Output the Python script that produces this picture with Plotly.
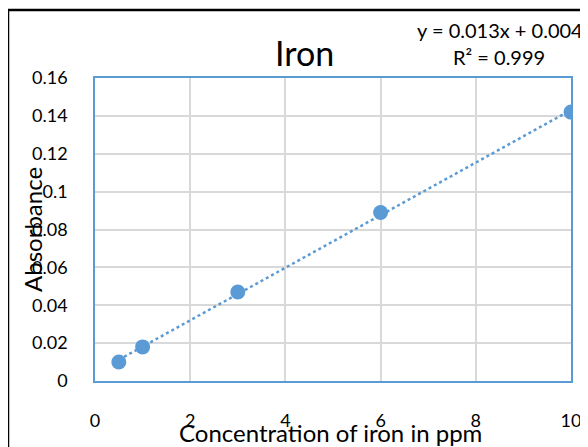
import numpy as np
import plotly.graph_objects as go

# Data
concentration = [0.5, 1, 3, 6, 10]
absorbance = [0.010, 0.018, 0.047, 0.089, 0.142]
x_ticks = [0, 2, 4, 6, 8, 10]
y_ticks = [0, 0.02, 0.04, 0.06, 0.08, 0.1, 0.12, 0.14, 0.16]
y_tick_labels = ["0", "0.02", "0.04", "0.06", "0.08", "0.1", "0.12", "0.14", "0.16"]
title_text = "Iron"
x_title = "Concentration of iron in ppm"
y_title = "Absorbance"
eq_text = "y = 0.013x + 0.004"
r2_text = "R² = 0.999"

# trendline from linear fit of the data
slope, intercept = np.polyfit(concentration, absorbance, 1)
trend_x = [min(concentration), max(concentration)]
trend_y = [slope * v + intercept for v in trend_x]

W, H = 588, 447
OFF = 8  # page body margin offset
L, R, T, B = 95 - OFF, 571 - OFF, 78 - OFF, 381 - OFF  # plot area in figure pixels

def px(xs):
    return (xs - OFF - L) / (R - L)

def py(ys):
    return (B - (ys - OFF)) / (B - T)

BLUE = "#5B9BD5"
FONT = "Lato"

fig = go.Figure()
fig.add_trace(go.Scatter(x=trend_x, y=trend_y, mode="lines",
                         line=dict(color=BLUE, width=2.5, dash="dot"),
                         hoverinfo="skip", showlegend=False))
fig.add_trace(go.Scatter(x=concentration, y=absorbance, mode="markers",
                         marker=dict(color=BLUE, size=15),
                         showlegend=False))

fig.update_layout(
    width=W, height=H,
    margin=dict(l=L, r=W - R, t=T, b=H - B),
    paper_bgcolor="white", plot_bgcolor="white",
    font=dict(family=FONT, color="#000000", size=17),
    xaxis=dict(range=[0, 10], tickvals=x_ticks, showgrid=True, gridcolor="#D9D9D9",
               gridwidth=1.5, zeroline=False, showline=True, linecolor=BLUE,
               linewidth=1.5, mirror=True, ticks="", ticklabelstandoff=23,
               tickfont=dict(size=18, family=FONT, color="#000000")),
    yaxis=dict(range=[0, 0.16], tickvals=y_ticks, ticktext=y_tick_labels,
               showgrid=True, gridcolor="#D9D9D9", gridwidth=1.5, zeroline=False,
               showline=True, linecolor=BLUE, linewidth=1.5, mirror=True, ticks="",
               ticklabelstandoff=22,
               tickfont=dict(size=18, family=FONT, color="#000000")),
    shapes=[dict(type="rect", xref="paper", yref="paper",
                 x0=px(8), x1=px(640), y0=py(500), y1=py(10),
                 line=dict(color="black", width=2.5), fillcolor="rgba(0,0,0,0)",
                 layer="below")],
    annotations=[
        dict(text=title_text, x=px(304), y=py(52), xref="paper", yref="paper",
             showarrow=False, font=dict(size=34, family=FONT), xanchor="center", yanchor="middle"),
        dict(text=eq_text, x=px(500), y=py(30), xref="paper", yref="paper",
             showarrow=False, font=dict(size=20, family=FONT), xanchor="center", yanchor="middle"),
        dict(text=r2_text, x=px(499), y=py(57), xref="paper", yref="paper",
             showarrow=False, font=dict(size=20, family=FONT), xanchor="center", yanchor="middle"),
        dict(text=x_title, x=px(330), y=py(432), xref="paper", yref="paper",
             showarrow=False, font=dict(size=24, family=FONT), xanchor="center", yanchor="middle"),
        dict(text=y_title, x=px(32), y=py(230), xref="paper", yref="paper",
             showarrow=False, font=dict(size=24, family=FONT), textangle=-90,
             xanchor="center", yanchor="middle"),
    ],
)

fig.write_html("out.html")
